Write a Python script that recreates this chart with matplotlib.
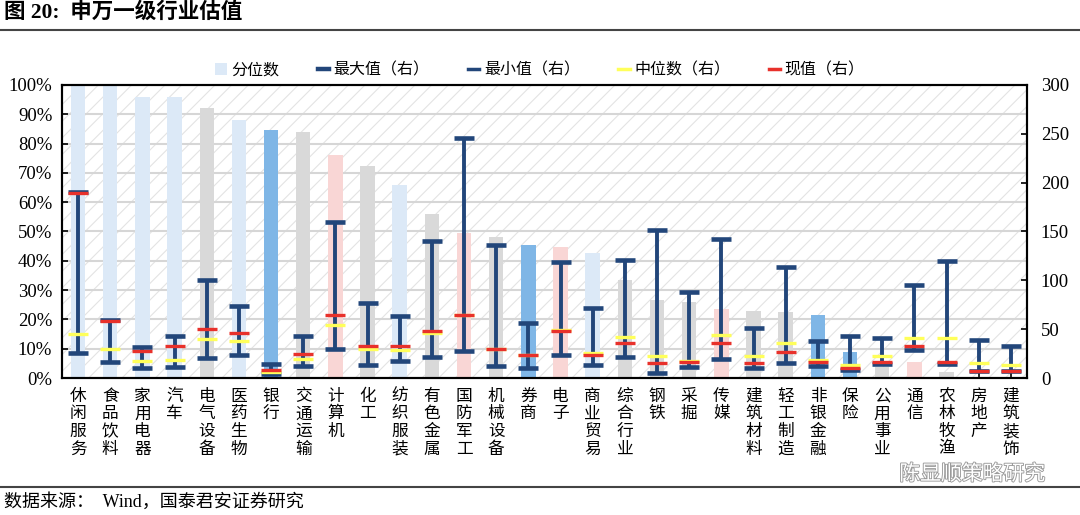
import numpy as np
import matplotlib.pyplot as plt
from matplotlib.patches import Rectangle, Patch
from matplotlib.lines import Line2D
import matplotlib.patheffects as pe

plt.rcParams['font.family'] = ['Liberation Serif', 'Noto Sans CJK SC']
plt.rcParams['hatch.linewidth'] = 0.8

industries = ['休闲服务', '食品饮料', '家用电器', '汽车', '电气设备', '医药生物', '银行',
              '交通运输', '计算机', '化工', '纺织服装', '有色金属', '国防军工', '机械设备',
              '券商', '电子', '商业贸易', '综合行业', '钢铁', '采掘', '传媒', '建筑材料',
              '轻工制造', '非银金融', '保险', '公用事业', '通信', '农林牧渔', '房地产', '建筑装饰']

# percentile of current valuation (left axis)
pct = [1.00, 1.00, 0.96, 0.96, 0.92, 0.88, 0.845, 0.838, 0.76, 0.725, 0.66, 0.56, 0.495, 0.48,
       0.453, 0.448, 0.425, 0.335, 0.265, 0.258, 0.235, 0.23, 0.225, 0.215, 0.09, 0.038, 0.054,
       0.019, 0.0, 0.0]
# bar colour group per industry
group = ['lb', 'lb', 'lb', 'lb', 'gr', 'lb', 'mb', 'gr', 'pk', 'gr', 'lb', 'gr', 'pk', 'gr',
         'mb', 'pk', 'lb', 'gr', 'gr', 'gr', 'pk', 'gr', 'gr', 'mb', 'mb', 'gr', 'pk', 'gr',
         'gr', 'gr']

# valuation stats (right axis)
v_max = [190, 59, 31.5, 43.5, 100, 74, 14.4, 43.5, 160, 76.5, 63, 140, 246, 136, 56, 118.5,
         72, 121, 152, 88, 142.5, 51, 114, 38.4, 43, 40.5, 95, 120, 38.6, 33]
v_min = [25.5, 16.5, 10.5, 11.4, 20.4, 24, 4.5, 12.6, 30, 13.5, 17.5, 21, 28, 12.6, 10, 24,
         13.5, 21, 5.4, 11.4, 19.5, 10.5, 15, 12, 8, 14, 28.5, 14.7, 7, 7]
v_med = [45, 30, 17, 18, 39.6, 38.4, 6, 19.5, 54, 29.4, 28.5, 46, 64, 29.7, 24, 49, 25.5, 42,
         22.5, 17.4, 44.5, 22.5, 35.5, 18, 13, 22.5, 41, 41, 15, 13.5]
v_now = [189, 58.5, 28, 33, 50, 46.5, 8, 24.6, 64.5, 32.4, 33, 48, 64.5, 29.7, 23.5, 48, 24,
         35.5, 15, 16, 35.5, 15, 26.5, 16.5, 10.5, 16.7, 33, 16.7, 7.5, 7.5]

palette = {'lb': '#dce9f7', 'gr': '#d9d9d9', 'pk': '#f9d6d5', 'mb': '#7fb6e6'}
navy = '#22467a'
yellow = '#ffff5a'
red = '#e8312b'

fig = plt.figure(figsize=(10.8, 5.15), dpi=100)
ax = fig.add_axes([0.0574, 0.266, 0.8935, 0.569])
ax2 = ax.twinx()

x = np.arange(len(industries))

ax.add_patch(Rectangle((0, 0), 1, 1, transform=ax.transAxes, facecolor='white',
                       edgecolor='#e3e3e3', hatch='//', lw=0, zorder=0))
ax.bar(x, pct, width=0.45, color=[palette[g] for g in group], zorder=2)
ax.set_axisbelow(True)
ax.yaxis.grid(True, color='#d6d6d6', lw=1.5, zorder=1)
ax.set_xlim(-0.5, len(industries) - 0.5)
ax.set_ylim(0, 1)
ax.set_yticks(np.arange(0, 1.01, 0.1))
ax.set_yticklabels([f'{int(round(v * 100))}%' for v in np.arange(0, 1.01, 0.1)], fontsize=13.5)
ax.set_xticks(x)
ax.set_xticklabels(['\n'.join(s) for s in industries], fontsize=12, va='top',
                   linespacing=1.05, family=['Noto Sans CJK SC'])
ax.tick_params(axis='both', direction='in', length=4, width=1.2)
ax.tick_params(axis='x', pad=7)
ax.tick_params(axis='y', pad=7)

ax2.vlines(x, v_min, v_max, color=navy, lw=2.8, zorder=3)
ax2.plot(x, v_max, ls='none', marker='_', ms=15, mew=3.3, color=navy, zorder=4)
ax2.plot(x, v_min, ls='none', marker='_', ms=15, mew=3.3, color=navy, zorder=4)
ax2.plot(x, v_med, ls='none', marker='_', ms=14, mew=2.4, color=yellow, zorder=5)
ax2.plot(x, v_now, ls='none', marker='_', ms=14, mew=2.4, color=red, zorder=6)
ax2.set_ylim(0, 300)
ax2.set_yticks(range(0, 301, 50))
ax2.tick_params(axis='y', direction='in', length=4, width=1.2, labelsize=13.5, pad=10)

for a in (ax, ax2):
    for sp in a.spines.values():
        sp.set_linewidth(1.5)
        sp.set_color('black')

handles = [Patch(facecolor=palette['lb'], edgecolor='none'),
           Line2D([], [], color=navy, lw=3.2),
           Line2D([], [], color=navy, lw=2.5),
           Line2D([], [], color=yellow, lw=2.5),
           Line2D([], [], color=red, lw=2.5)]
labels = ['分位数', '最大值（右）', '最小值（右）', '中位数（右）', '现值（右）']
fig.legend(handles, labels, loc='center', bbox_to_anchor=(0.5, 0.864), ncol=5, frameon=False,
           handlelength=0.7, handleheight=0.7, handletextpad=0.3, columnspacing=2.4,
           prop={'family': ['Noto Sans CJK SC'], 'size': 11.5})

fig.text(0.004, 0.975, '图 20:  申万一级行业估值', fontsize=15.5, fontweight='bold', va='center')
fig.add_artist(Line2D([0, 1], [1 - 30 / 515, 1 - 30 / 515], color='#444444', lw=1.5))
fig.add_artist(Line2D([0, 1], [1 - 487 / 515, 1 - 487 / 515], color='#444444', lw=1.5))
fig.text(0.004, 1 - 502 / 515, '数据来源：  Wind，国泰君安证券研究', fontsize=13, va='center')
fig.text(0.968, 1 - 474 / 515, '陈显顺策略研究', fontsize=15, color='white', ha='right',
         va='center', family=['Noto Sans CJK SC'],
         path_effects=[pe.withStroke(linewidth=1.3, foreground='#9a9a9a')])

fig.savefig('out.png', dpi=100)
